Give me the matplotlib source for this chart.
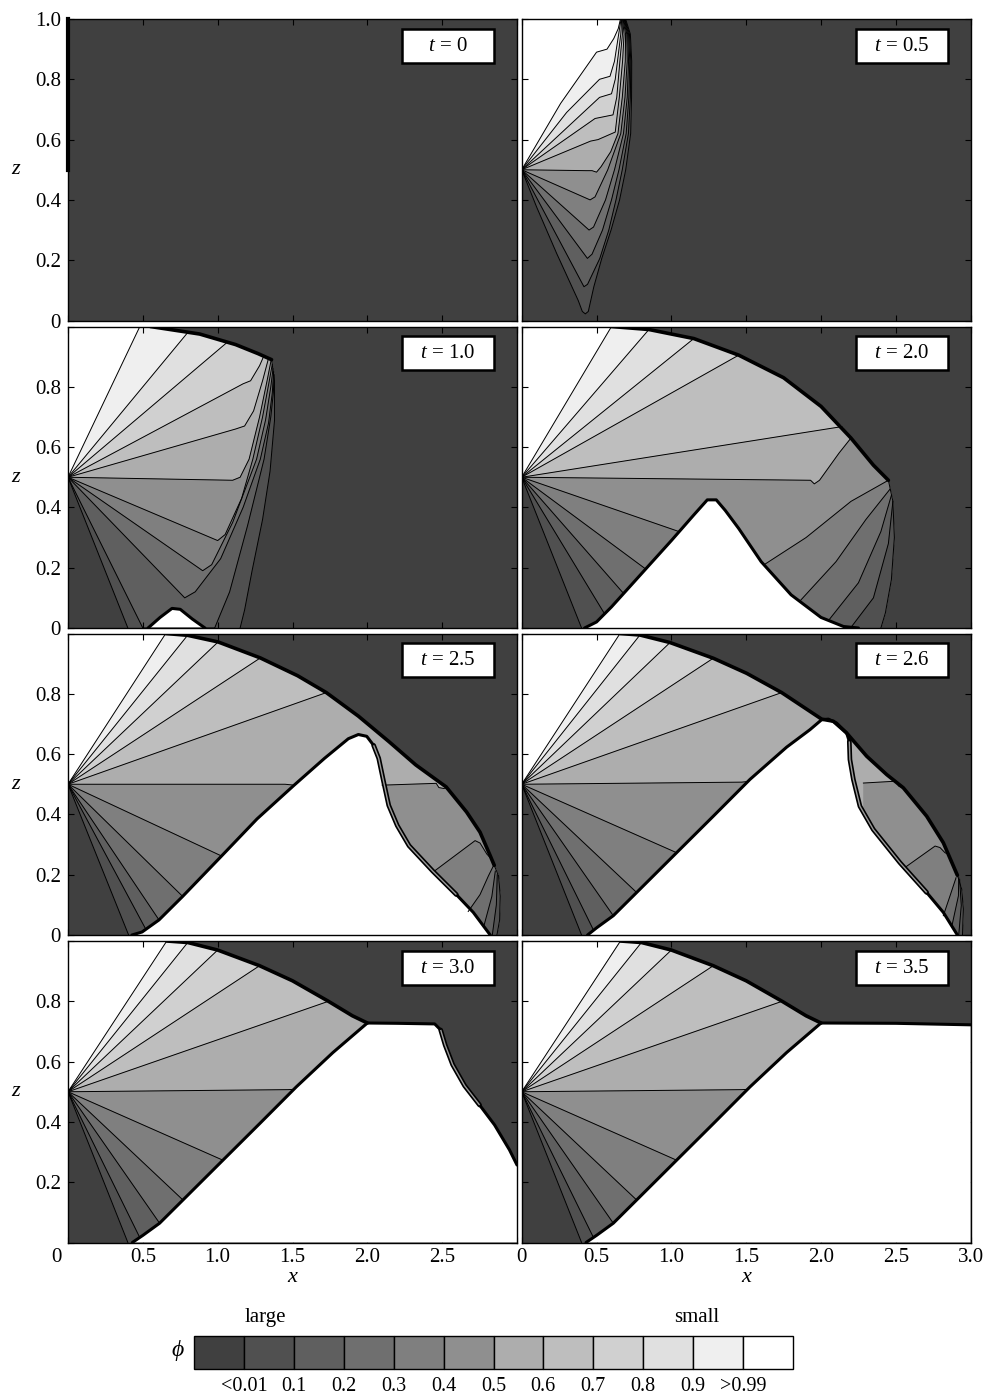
import numpy as np
import matplotlib
matplotlib.use("Agg")
import matplotlib.pyplot as plt
from matplotlib.patches import Polygon, Rectangle

plt.rcParams['font.family'] = ['Liberation Serif', 'DejaVu Serif']
plt.rcParams['mathtext.fontset'] = 'custom'
plt.rcParams['mathtext.rm'] = 'Liberation Serif'
plt.rcParams['mathtext.it'] = 'Liberation Serif:italic'

# grey level of each phi class, from "<0.01" (index 0) to ">0.99" (index 11)
SHADES = ['#404040', '#505050', '#5f5f5f', '#6f6f6f', '#7f7f7f', '#8f8f8f',
          '#adadad', '#bebebe', '#d0d0d0', '#e0e0e0', '#efefef', '#ffffff']
BAR_TICKS = ['<0.01', '0.1', '0.2', '0.3', '0.4', '0.5', '0.6', '0.7', '0.8',
             '0.9', '>0.99']
# contour lists below are ordered by level: 0.99, 0.9, ..., 0.1, 0.01
LEVELS = [0.99, 0.9, 0.8, 0.7, 0.6, 0.5, 0.4, 0.3, 0.2, 0.1, 0.01]
TIMES = ['0', '0.5', '1.0', '2.0', '2.5', '2.6', '3.0', '3.5']
SOURCE = (0.0, 0.5)

# ---------------- t = 0.5 ----------------
T05_SHOCK = []
T05_EDGE = [(1.0, 1.0)]
T05_MOUNT = []
T05_CONTOURS = [
    [(0.26, 0.72), (0.50, 0.89), (0.57, 0.90), (0.615, 0.935), (0.645, 0.968), (0.660, 1.0)],
    [(0.30, 0.69), (0.52, 0.80), (0.59, 0.81), (0.62, 0.86), (0.648, 0.95), (0.664, 1.0)],
    [(0.52, 0.74), (0.60, 0.752), (0.625, 0.80), (0.640, 0.86), (0.662, 0.95), (0.668, 1.0)],
    [(0.49, 0.67), (0.61, 0.682), (0.635, 0.74), (0.656, 0.86), (0.673, 0.95), (0.671, 1.0)],
    [(0.46, 0.595), (0.51, 0.60), (0.625, 0.625), (0.652, 0.74), (0.674, 0.86), (0.684, 0.95), (0.674, 1.0)],
    [(0.43, 0.497), (0.47, 0.497), (0.50, 0.492), (0.53, 0.51), (0.595, 0.56), (0.643, 0.62),
     (0.672, 0.74), (0.692, 0.86), (0.694, 0.95), (0.677, 1.0)],
    [(0.457, 0.40), (0.49, 0.41), (0.575, 0.50), (0.662, 0.62), (0.690, 0.74), (0.705, 0.86),
     (0.702, 0.95), (0.680, 1.0)],
    [(0.45, 0.30), (0.48, 0.31), (0.56, 0.40), (0.62, 0.50), (0.680, 0.62), (0.705, 0.74),
     (0.714, 0.86), (0.708, 0.95), (0.684, 1.0)],
    [(0.439, 0.206), (0.47, 0.22), (0.54, 0.30), (0.60, 0.40), (0.650, 0.50), (0.698, 0.62),
     (0.716, 0.74), (0.722, 0.86), (0.714, 0.95), (0.687, 1.0)],
    [(0.416, 0.112), (0.44, 0.12), (0.522, 0.206), (0.582, 0.30), (0.630, 0.40), (0.672, 0.50),
     (0.713, 0.62), (0.726, 0.74), (0.729, 0.86), (0.720, 0.95), (0.690, 1.0)],
    [(0.10, 0.376), (0.234, 0.222), (0.378, 0.066), (0.405, 0.03), (0.425, 0.022), (0.445, 0.03),
     (0.482, 0.112), (0.535, 0.206), (0.597, 0.30), (0.654, 0.40), (0.695, 0.50), (0.728, 0.62),
     (0.734, 0.74), (0.735, 0.86), (0.726, 0.95), (0.694, 1.0)],
]
T05_LOBES = []
T05_DOUBLE = None

# ---------------- t = 1.0 ----------------
T10_SHOCK = [(0.55, 1.0), (0.88, 0.975), (1.12, 0.94), (1.27, 0.91), (1.36, 0.89)]
T10_EDGE = [(1.38, 0.82), (1.38, 0.69), (1.35, 0.52), (1.30, 0.36), (1.23, 0.19),
            (1.18, 0.06), (1.15, 0.0)]
T10_MOUNT = [(0.535, 0.0), (0.615, 0.035), (0.695, 0.065), (0.75, 0.062), (0.83, 0.03),
             (0.915, 0.0)]
T10_CONTOURS = [
    [(0.48, 1.0)],
    [(0.80, 0.98)],
    [(1.06, 0.946)],
    [(1.17, 0.81), (1.22, 0.82), (1.28, 0.87), (1.31, 0.904)],
    [(1.12, 0.66), (1.18, 0.67), (1.24, 0.72), (1.30, 0.82), (1.34, 0.895)],
    [(1.10, 0.49), (1.15, 0.50), (1.21, 0.56), (1.28, 0.70), (1.33, 0.82), (1.358, 0.89)],
    [(1.00, 0.29), (1.05, 0.31), (1.16, 0.43), (1.235, 0.56), (1.30, 0.70), (1.345, 0.82), (1.365, 0.875)],
    [(0.90, 0.19), (0.96, 0.21), (1.10, 0.35), (1.26, 0.56), (1.32, 0.69), (1.355, 0.80), (1.37, 0.86)],
    [(0.78, 0.10), (0.85, 0.12), (1.02, 0.23), (1.17, 0.40), (1.285, 0.56), (1.34, 0.68), (1.365, 0.78),
     (1.374, 0.85)],
    [(0.50, 0.0), (0.98, 0.0), (1.08, 0.12), (1.20, 0.34), (1.31, 0.56), (1.355, 0.70), (1.372, 0.78),
     (1.377, 0.84)],
    [(0.40, 0.0)],
]
T10_LOBES = []
T10_DOUBLE = None

# ---------------- t = 2.0 ----------------
T20_SHOCK = [(0.60, 1.0), (0.85, 0.99), (1.15, 0.96), (1.45, 0.905), (1.75, 0.83), (2.0, 0.735),
             (2.2, 0.63), (2.35, 0.54), (2.45, 0.49)]
T20_EDGE = [(2.48, 0.42), (2.49, 0.30), (2.47, 0.16), (2.43, 0.05), (2.40, 0.0)]
T20_MOUNT = [(0.42, 0.0), (0.5, 0.02), (0.6, 0.07), (0.8, 0.18), (1.0, 0.29), (1.15, 0.375),
             (1.24, 0.425), (1.30, 0.425), (1.36, 0.39), (1.45, 0.33), (1.6, 0.22), (1.8, 0.11),
             (2.0, 0.035), (2.15, 0.005), (2.25, 0.0)]
T20_CONTOURS = [
    [(0.60, 1.0)],
    [(0.85, 0.99)],
    [(1.15, 0.96)],
    [(1.45, 0.905)],
    [(2.14, 0.668)],
    [(1.93, 0.49), (1.955, 0.478), (1.99, 0.49), (2.12, 0.58), (2.20, 0.63)],
    [(1.05, 0.32)],
    [(0.83, 0.195)],
    [(0.68, 0.115)],
    [(0.55, 0.05)],
    [(0.40, 0.0)],
]
T20_LOBES = [
    (4, [(1.62, 0.21), (1.9, 0.30), (2.2, 0.42), (2.45, 0.49)]),
    (3, [(1.86, 0.09), (2.1, 0.22), (2.3, 0.36), (2.46, 0.46)]),
    (2, [(2.05, 0.025), (2.25, 0.15), (2.4, 0.32), (2.47, 0.44)]),
    (1, [(2.2, 0.002), (2.35, 0.1), (2.45, 0.28), (2.48, 0.42)]),
]
T20_DOUBLE = None

# ---------------- t = 2.5 ----------------
T25_SHOCK = [(0.653, 1.0), (0.799, 0.994), (1.003, 0.972), (1.285, 0.919), (1.534, 0.860),
             (1.726, 0.804), (1.940, 0.726), (2.143, 0.642), (2.324, 0.564), (2.527, 0.491),
             (2.663, 0.408), (2.753, 0.341), (2.821, 0.263), (2.848, 0.231)]
T25_EDGE = [(2.877, 0.196), (2.888, 0.129), (2.884, 0.050), (2.866, 0.0)]
T25_MOUNT = [(0.427, 0.0), (0.495, 0.01), (0.608, 0.05), (0.766, 0.128), (1.026, 0.262),
             (1.263, 0.385), (1.511, 0.497), (1.714, 0.586), (1.873, 0.651), (1.94, 0.665),
             (1.996, 0.659), (2.042, 0.629), (2.076, 0.586), (2.109, 0.508), (2.143, 0.43),
             (2.2, 0.363), (2.279, 0.296), (2.437, 0.212), (2.595, 0.134), (2.708, 0.075),
             (2.821, 0.0)]
T25_CONTOURS = [
    [(0.653, 1.0)],
    [(0.799, 0.994)],
    [(1.003, 0.972)],
    [(1.285, 0.919)],
    [(1.726, 0.804)],
    [(1.45, 0.500), (1.511, 0.497)],
    [(1.026, 0.262)],
    [(0.766, 0.128)],
    [(0.608, 0.05)],
    [(0.52, 0.019)],
    [(0.405, 0.0)],
]
T25_LOBES = [
    (5, [(2.099, 0.497), (2.46, 0.503), (2.478, 0.489), (2.51, 0.486), (2.533, 0.488)]),
    (4, [(2.448, 0.212), (2.72, 0.313), (2.753, 0.305), (2.799, 0.268), (2.83, 0.252)]),
    (3, [(2.674, 0.078), (2.753, 0.134), (2.809, 0.196), (2.845, 0.232)]),
    (2, [(2.776, 0.025), (2.832, 0.128), (2.855, 0.212)]),
    (1, [(2.835, 0.0), (2.862, 0.10), (2.868, 0.2)]),
]
T25_DOUBLE = (11, 18)   # stretch of the mountain edge drawn as a doubled line

# ---------------- t = 2.6 ----------------
T26_SHOCK = [(0.657, 1.0), (0.79, 0.995), (0.991, 0.97), (1.28, 0.918), (1.503, 0.868),
             (1.737, 0.804), (1.904, 0.749), (2.004, 0.716), (2.082, 0.709), (2.171, 0.67),
             (2.305, 0.593), (2.439, 0.532), (2.55, 0.488), (2.706, 0.394), (2.817, 0.306),
             (2.884, 0.229), (2.911, 0.198)]
T26_EDGE = [(2.94, 0.152), (2.951, 0.086), (2.945, 0.0)]
T26_MOUNT = [(0.44, 0.0), (0.501, 0.024), (0.612, 0.064), (0.768, 0.141), (1.035, 0.273),
             (1.28, 0.394), (1.525, 0.516), (1.77, 0.623), (1.926, 0.681), (2.004, 0.714),
             (2.049, 0.716), (2.104, 0.703), (2.171, 0.67), (2.189, 0.642), (2.193, 0.582),
             (2.216, 0.516), (2.26, 0.427), (2.349, 0.35), (2.527, 0.24), (2.706, 0.141),
             (2.817, 0.075), (2.911, 0.0)]
T26_CONTOURS = [
    [(0.657, 1.0)],
    [(0.79, 0.995)],
    [(0.991, 0.97)],
    [(1.28, 0.918)],
    [(1.737, 0.804)],
    [(1.47, 0.507), (1.51, 0.509)],
    [(1.035, 0.273)],
    [(0.768, 0.141)],
    [(0.612, 0.064)],
    [(0.48, 0.016)],
    [(0.40, 0.0)],
]
T26_LOBES = [
    (5, [(2.283, 0.504), (2.494, 0.51), (2.521, 0.493), (2.55, 0.488)]),
    (4, [(2.561, 0.224), (2.762, 0.295), (2.795, 0.29), (2.828, 0.273), (2.85, 0.268)]),
    (3, [(2.817, 0.064), (2.862, 0.13), (2.902, 0.19)]),
    (2, [(2.873, 0.027), (2.918, 0.13), (2.92, 0.19)]),
    (1, [(2.92, 0.0), (2.937, 0.098), (2.926, 0.185)]),
]
T26_DOUBLE = (13, 19)

# ---------------- t = 3.0 ----------------
T30_SHOCK = [(0.66, 1.0), (0.80, 0.995), (1.0, 0.97), (1.28, 0.918), (1.50, 0.868),
             (1.74, 0.80), (1.90, 0.752), (2.0, 0.728)]
T30_EDGE = []
T30_MOUNT = [(0.43, 0.0), (0.501, 0.024), (0.612, 0.064), (0.768, 0.141), (1.035, 0.273),
             (1.28, 0.394), (1.525, 0.516), (1.77, 0.63), (2.0, 0.728), (2.2, 0.727),
             (2.45, 0.725), (2.49, 0.705), (2.52, 0.655), (2.57, 0.59), (2.65, 0.52),
             (2.75, 0.456), (2.85, 0.39), (2.95, 0.307), (3.0, 0.257)]
T30_CONTOURS = [
    [(0.66, 1.0)],
    [(0.80, 0.995)],
    [(1.0, 0.97)],
    [(1.28, 0.918)],
    [(1.74, 0.80)],
    [(1.47, 0.507), (1.51, 0.508)],
    [(1.035, 0.273)],
    [(0.768, 0.141)],
    [(0.612, 0.064)],
    [(0.48, 0.016)],
    [(0.40, 0.0)],
]
T30_LOBES = []
T30_DOUBLE = (11, 15)

# ---------------- t = 3.5 ----------------
T35_SHOCK = [(0.66, 1.0), (0.80, 0.995), (1.0, 0.97), (1.28, 0.918), (1.50, 0.868),
             (1.74, 0.80), (1.90, 0.752), (2.0, 0.728)]
T35_EDGE = []
T35_MOUNT = [(0.43, 0.0), (0.501, 0.024), (0.612, 0.064), (0.768, 0.141), (1.035, 0.273),
             (1.28, 0.394), (1.525, 0.516), (1.77, 0.63), (2.0, 0.728), (2.5, 0.727),
             (3.0, 0.722)]
T35_CONTOURS = [
    [(0.66, 1.0)],
    [(0.80, 0.995)],
    [(1.0, 0.97)],
    [(1.28, 0.918)],
    [(1.74, 0.80)],
    [(1.47, 0.507), (1.51, 0.508)],
    [(1.035, 0.273)],
    [(0.768, 0.141)],
    [(0.612, 0.064)],
    [(0.48, 0.016)],
    [(0.40, 0.0)],
]
T35_LOBES = []
T35_DOUBLE = None

PANELS = [
    ('0', [], [], [], [], [], None),
    ('0.5', T05_SHOCK, T05_EDGE, T05_MOUNT, T05_CONTOURS, T05_LOBES, T05_DOUBLE),
    ('1.0', T10_SHOCK, T10_EDGE, T10_MOUNT, T10_CONTOURS, T10_LOBES, T10_DOUBLE),
    ('2.0', T20_SHOCK, T20_EDGE, T20_MOUNT, T20_CONTOURS, T20_LOBES, T20_DOUBLE),
    ('2.5', T25_SHOCK, T25_EDGE, T25_MOUNT, T25_CONTOURS, T25_LOBES, T25_DOUBLE),
    ('2.6', T26_SHOCK, T26_EDGE, T26_MOUNT, T26_CONTOURS, T26_LOBES, T26_DOUBLE),
    ('3.0', T30_SHOCK, T30_EDGE, T30_MOUNT, T30_CONTOURS, T30_LOBES, T30_DOUBLE),
    ('3.5', T35_SHOCK, T35_EDGE, T35_MOUNT, T35_CONTOURS, T35_LOBES, T35_DOUBLE),
]


def path_param(path, p):
    """Position of point p along a polyline, as segment index + fraction."""
    path = np.asarray(path, float)
    p = np.asarray(p, float)
    best_d, best_s = np.inf, 0.0
    for i in range(len(path) - 1):
        a, b = path[i], path[i + 1]
        d = b - a
        l2 = d @ d
        t = 0.0 if l2 == 0 else float(np.clip((p - a) @ d / l2, 0.0, 1.0))
        dist = np.hypot(*(p - (a + t * d)))
        if dist < best_d - 1e-12:
            best_d, best_s = dist, i + t
    return best_s


def vertices_between(path, s0, s1):
    lo, hi = min(s0, s1), max(s0, s1)
    pts = [tuple(path[i]) for i in range(len(path)) if lo + 1e-9 < i < hi - 1e-9]
    return pts if s0 <= s1 else pts[::-1]


def band_polygon(ca, cb, outline):
    sa = path_param(outline, ca[-1])
    sb = path_param(outline, cb[-1])
    return list(ca) + vertices_between(outline, sa, sb) + list(cb)[::-1]


def draw_panel(ax, label, shock, edge, mount, contours, lobes, double):
    ax.set_facecolor(SHADES[0])
    if contours:
        outline = [(0.0, 1.0)] + list(shock) + list(edge) + list(mount)[::-1] + [(0.0, 0.0)]
        lines = [[SOURCE, (0.0, 1.0)]] + [[SOURCE] + list(c) for c in contours]
        for k in range(len(lines) - 1):
            poly = band_polygon(lines[k], lines[k + 1], outline)
            ax.add_patch(Polygon(poly, closed=True, fc=SHADES[11 - k], ec=SHADES[11 - k],
                                 lw=0.3, zorder=1))
        end_pt = edge[-1] if edge else None
        for shade, L in lobes:
            s0 = path_param(outline, L[-1])
            s1 = path_param(outline, end_pt)
            poly = list(L) + vertices_between(outline, s0, s1) + [tuple(end_pt), (L[0][0], 0.0)]
            ax.add_patch(Polygon(poly, closed=True, fc=SHADES[shade], ec=SHADES[shade],
                                 lw=0.3, zorder=2))
        if mount:
            mp = list(mount) + [(mount[-1][0], 0.0), (mount[0][0], 0.0)]
            ax.add_patch(Polygon(mp, closed=True, fc='white', ec='none', zorder=3))
        for c in lines[1:]:
            xs, zs = zip(*c)
            ax.plot(xs, zs, color='black', lw=0.7, zorder=4)
        for shade, L in lobes:
            xs, zs = zip(*L)
            ax.plot(xs, zs, color='black', lw=0.7, zorder=4)
        if edge and shock:
            xs, zs = zip(*([shock[-1]] + list(edge)))
            ax.plot(xs, zs, color='black', lw=0.7, zorder=4)
        if mount:
            xs, zs = zip(*mount)
            ax.plot(xs, zs, color='black', lw=2.2, zorder=5, solid_capstyle='round')
            if double:
                seg = mount[double[0]:double[1] + 1]
                xs, zs = zip(*seg)
                ax.plot(xs, zs, color='black', lw=3.4, zorder=5, solid_capstyle='round')
                ax.plot(xs, zs, color='#9a9a9a', lw=1.0, zorder=5, solid_capstyle='butt')
        if shock:
            xs, zs = zip(*shock)
            ax.plot(xs, zs, color='black', lw=2.6, zorder=5, solid_capstyle='round')
    else:
        ax.plot([0, 0], [0.5, 1.0], color='black', lw=3.0, zorder=5, clip_on=False)

    ax.add_patch(Rectangle((0.744, 0.855), 0.205, 0.112, transform=ax.transAxes,
                           fc='white', ec='black', lw=1.8, zorder=6))
    ax.text(0.8465, 0.909, r'$t$ = ' + label, transform=ax.transAxes, ha='center',
            va='center', fontsize=15, zorder=7)


W, H = 988.0, 1395.0
fig = plt.figure(figsize=(W / 100, H / 100), dpi=100)
COL_LEFT = [68.0, 521.7]
ROW_TOP = [19.0, 326.5, 633.5, 941.0]
AX_W, AX_H = 449.0, 301.5

xt = [0, 0.5, 1.0, 1.5, 2.0, 2.5, 3.0]
zt = [0, 0.2, 0.4, 0.6, 0.8, 1.0]
for idx, (label, shock, edge, mount, contours, lobes, double) in enumerate(PANELS):
    r, c = divmod(idx, 2)
    ax = fig.add_axes([COL_LEFT[c] / W, 1 - (ROW_TOP[r] + AX_H) / H, AX_W / W, AX_H / H])
    ax.set_xlim(0, 3)
    ax.set_ylim(0, 1)
    draw_panel(ax, label, shock, edge, mount, contours, lobes, double)
    ax.set_xticks(xt)
    ax.set_yticks(zt)
    ax.tick_params(direction='in', length=4, width=0.8, top=True, right=True,
                   labelsize=15, color='black')
    ax.tick_params(axis='y', pad=5)
    ax.tick_params(axis='x', pad=4)
    for sp in ax.spines.values():
        sp.set_linewidth(1.0)
        sp.set_zorder(8)
    if c == 0:
        if r == 0:
            labs = ['0', '0.2', '0.4', '0.6', '0.8', '1.0']
        elif r < 3:
            labs = ['0', '0.2', '0.4', '0.6', '0.8', '']
        else:
            labs = ['', '0.2', '0.4', '0.6', '0.8', '']
        ax.set_yticklabels(labs)
        fig.text(16 / W, 1 - (ROW_TOP[r] + AX_H * 0.50) / H, 'z', fontsize=16,
                 style='italic', ha='center', va='center')
    else:
        ax.set_yticklabels([])
    if r == 3:
        if c == 0:
            ax.set_xticklabels(['', '0.5', '1.0', '1.5', '2.0', '2.5', ''])
            # the origin label of the lower-left panel sits under the z labels
            fig.text(56 / W, 1 - (ROW_TOP[r] + AX_H + 5.5) / H, '0', fontsize=15,
                     ha='center', va='top')
        else:
            ax.set_xticklabels(['0', '0.5', '1.0', '1.5', '2.0', '2.5', '3.0'])
        fig.text((COL_LEFT[c] + AX_W / 2) / W, 1 - 1277 / H, 'x', fontsize=16,
                 style='italic', ha='center', va='center')
    else:
        ax.set_xticklabels([])

# class bar
cax = fig.add_axes([194.3 / W, 1 - 1369.3 / H, 598.4 / W, 33.3 / H])
cax.set_xlim(0, 12)
cax.set_ylim(0, 1)
cax.axis('off')
for i, shade in enumerate(SHADES):
    cax.add_patch(Rectangle((i, 0), 1, 1, fc=shade, ec='black', lw=1.0, clip_on=False))
for k, lab in enumerate(BAR_TICKS):
    cax.text(k + 1, -0.22, lab, ha='center', va='top', fontsize=14.5, clip_on=False)
cax.text(1.42, 1.55, 'large', ha='center', va='center', fontsize=15)
cax.text(10.08, 1.55, 'small', ha='center', va='center', fontsize=15)
cax.text(-0.33, 0.55, r'$\phi$', ha='center', va='center', fontsize=17)

fig.savefig('out.png', dpi=100)
